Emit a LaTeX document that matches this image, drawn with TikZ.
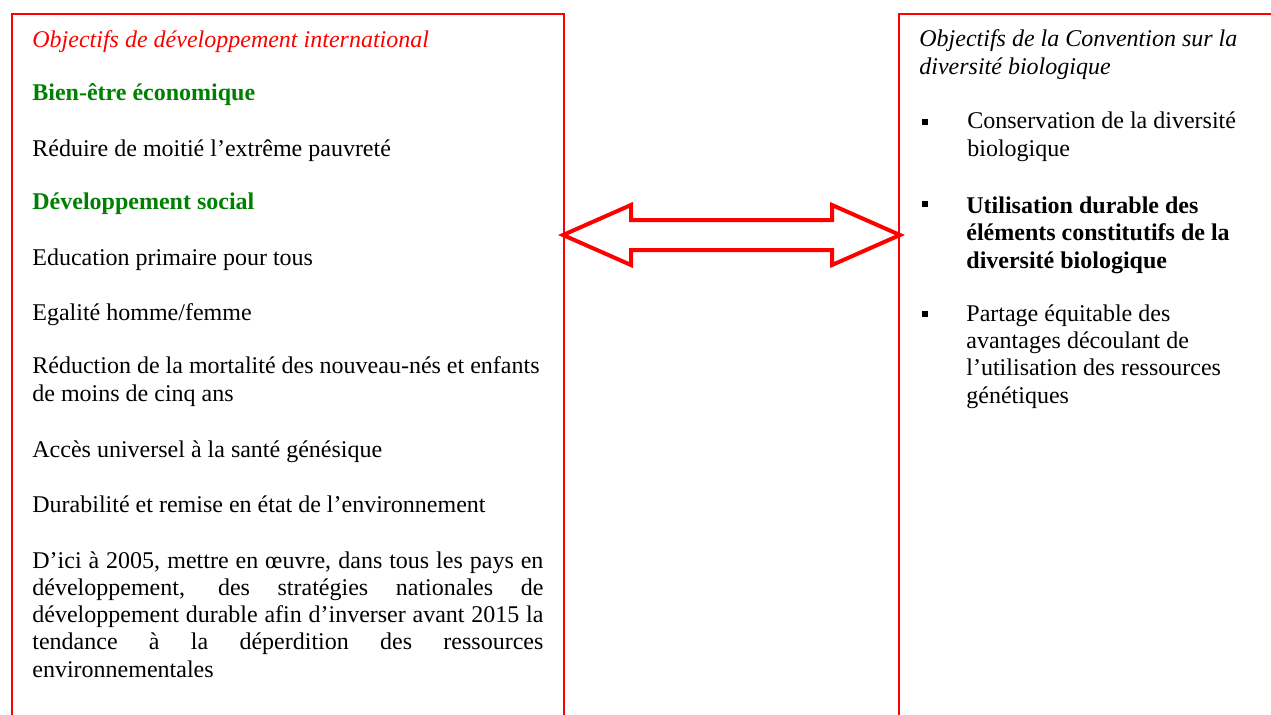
\documentclass[tikz,border=0pt]{standalone}
\usepackage{fontspec}
\setmainfont{Liberation Serif}
\usetikzlibrary{positioning}

\definecolor{boxred}{RGB}{255,0,0}
\definecolor{headgreen}{RGB}{0,128,0}

\begin{document}
\begin{tikzpicture}[%
        x = 0.5pt, y = -0.5pt,
        frame/.style = {draw = boxred, line width = 1pt},
        txt/.style = {anchor = base west, inner sep = 0pt, align = left,
            font = \fontsize{12}{13.65}\selectfont},
        head/.style = {txt, font = \fontsize{12}{13.65}\selectfont\bfseries,
            text = headgreen},
        bullet/.style = {fill = black, minimum size = 3.2pt, inner sep = 0pt}
    ]
        \useasboundingbox (0, 0) rectangle (1271, 714);
        \clip (0, 0) rectangle (1271, 714);

        % Open boxes, running off the bottom (and the right) of the page.
        \draw[frame] (12, 760) -- (12, 14) -- (564, 14) -- (564, 760);
        \draw[frame] (899, 760) -- (899, 14) -- (1300, 14);

        % Left column (multi-line nodes sit on the baseline of their last line).
        \node[txt, text = boxred, font = \fontsize{12}{13.65}\selectfont\itshape]
            (ltitle) at (32, 47) {Objectifs de développement international};
        \node[head] (lecon) at (32, 100) {Bien-être économique};
        \node[txt] (lpauv) at (32, 156) {Réduire de moitié l’extrême pauvreté};
        \node[head] (lsocial) at (32, 209) {Développement social};
        \node[txt] (leduc) at (32, 265) {Education primaire pour tous};
        \node[txt] (legal) at (32, 320) {Egalité homme/femme};
        \node[txt] (lmort) at (32, 401)
            {Réduction de la mortalité des nouveau-nés et enfants\\de moins de cinq ans};
        \node[txt] (lacces) at (32, 457) {Accès universel à la santé génésique};
        \node[txt] (ldurab) at (32, 512) {Durabilité et remise en état de l’environnement};
        % (with a text width the node sits on its first line)
        \node[txt, align = justify, text width = 255.5pt] (lstrat) at (32, 568)
            {D’ici à 2005, mettre en œuvre, dans tous les pays en\linebreak
             développement, des stratégies nationales de\linebreak
             développement durable afin d’inverser avant 2015 la\linebreak
             tendance à la déperdition des ressources\linebreak
             environnementales};

        % Right column.
        \node[txt, font = \fontsize{12}{13.65}\selectfont\itshape]
            (rtitle) at (919, 74) {Objectifs de la Convention sur la\\diversité biologique};
        \node[bullet] (b1) at (925, 122) {};
        \node[txt] (rcons) at (967, 156) {Conservation de la diversité\\biologique};
        \node[bullet] (b2) at (925, 204) {};
        \node[txt, font = \fontsize{12}{13.65}\selectfont\bfseries] (rutil) at (966, 268)
            {Utilisation durable des\\éléments constitutifs de la\\diversité biologique};
        \node[bullet] (b3) at (925, 314) {};
        \node[txt] (rpart) at (966, 403)
            {Partage équitable des\\avantages découlant de\\l’utilisation des ressources\\génétiques};

        % Double block arrow between the two boxes.
        \coordinate (ltip) at (563, 235);
        \coordinate (rtip) at (900, 235);
        \draw[boxred, line width = 2pt, miter limit = 20]
            (ltip) -- ([shift = {(68, -30)}]ltip) -- ([shift = {(68, -15)}]ltip)
            -- ([shift = {(-68, -15)}]rtip) -- ([shift = {(-68, -30)}]rtip)
            -- (rtip)
            -- ([shift = {(-68, 30)}]rtip) -- ([shift = {(-68, 15)}]rtip)
            -- ([shift = {(68, 15)}]ltip) -- ([shift = {(68, 30)}]ltip)
            -- cycle;
\end{tikzpicture}
\end{document}
